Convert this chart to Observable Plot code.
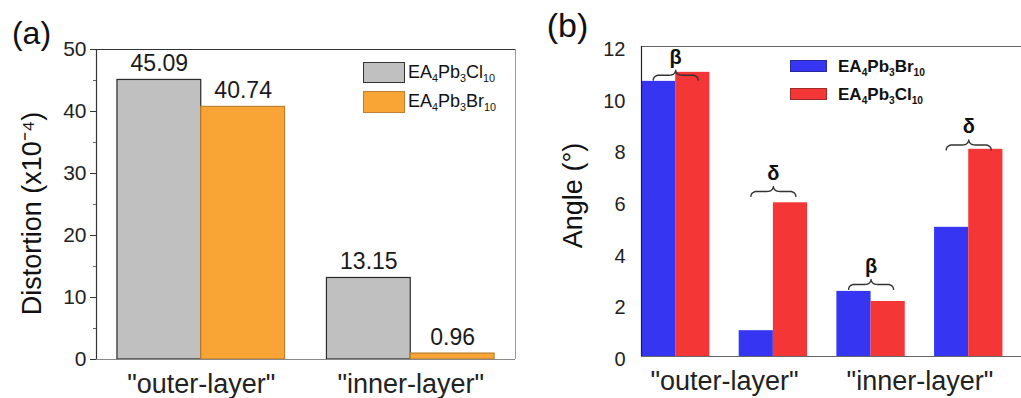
<!DOCTYPE html>
<html><head><meta charset="utf-8">
<script src="https://cdn.jsdelivr.net/npm/d3@7"></script>
<script src="https://cdn.jsdelivr.net/npm/@observablehq/plot@0.6"></script>
<style>
body{margin:0;background:#fff;font-family:"Liberation Sans",Arial,sans-serif;}
#wrap{position:relative;width:1021px;height:398px;display:flex;overflow:hidden;}
#wrap svg{display:block;flex:none;}
.lg{position:absolute;white-space:nowrap;color:#111;line-height:18px;}
.sw{position:absolute;box-sizing:border-box;}
sub{font-size:60%;vertical-align:-0.35em;line-height:0;}
</style></head><body><div id="wrap"></div>
<script>
// ---------- data: panel (a) ----------
const layers = ['"outer-layer"', '"inner-layer"'];
const seriesA = ["EA4Pb3Cl10", "EA4Pb3Br10"];
const distCl = [45.09, 13.15];
const distBr = [40.74, 0.96];
const yTicksA = [0, 10, 20, 30, 40, 50];
const yMinorA = [5, 15, 25, 35, 45];
// ---------- data: panel (b) ----------
const seriesB = ["EA4Pb3Br10", "EA4Pb3Cl10"];
const angleKinds = ["β", "δ", "β", "δ"];
const angleLayer = ['"outer-layer"', '"outer-layer"', '"inner-layer"', '"inner-layer"'];
const angleBr = [10.65, 1.0, 2.52, 5.0];
const angleCl = [11.0, 5.95, 2.13, 8.02];
const braceBase = [10.7, 6.2, 2.6, 8.0]; // brace anchor levels (degrees)
const yTicksB = [0, 2, 4, 6, 8, 10, 12];

const FONT = '"Liberation Sans", Arial, sans-serif';
const wrap = document.getElementById("wrap");

// ---------- panel (a) ----------
const rowsA = [];
layers.forEach((l, i) => {
  rowsA.push({i, s: 0, v: distCl[i]});
  rowsA.push({i, s: 1, v: distBr[i]});
});
const bx1 = d => d.i + 0.1 + 0.4 * d.s;
const bx2 = d => d.i + 0.5 + 0.4 * d.s;
const plotA = Plot.plot({
  width: 520, height: 398,
  marginLeft: 96, marginRight: 5, marginTop: 49, marginBottom: 39,
  style: {fontFamily: FONT, fontSize: "21px", color: "#222", background: "transparent", overflow: "visible"},
  x: {domain: [0, layers.length], axis: null},
  y: {domain: [0, 50], axis: null},
  marks: [
    Plot.rectY(rowsA.filter(d => d.s === 0), {x1: bx1, x2: bx2, y1: 0, y2: "v", fill: "#c0c0c0", stroke: "#2a2a2a", strokeWidth: 1.2}),
    Plot.rectY(rowsA.filter(d => d.s === 1), {x1: bx1, x2: bx2, y1: 0, y2: "v", fill: "#f8a535", stroke: "#b98131", strokeWidth: 1.2}),
    Plot.text(rowsA, {x: d => (bx1(d) + bx2(d)) / 2, y: "v", text: d => d.v.toFixed(2), dy: -16, fontSize: 23, fill: "#1a1a1a"}),
    Plot.ruleY([50], {stroke: "#333", strokeWidth: 1.2}),
    Plot.ruleY([0], {stroke: "#888", strokeWidth: 1.2}),
    Plot.ruleX([layers.length], {stroke: "#999", strokeWidth: 1}),
    Plot.ruleX([0], {stroke: "#333", strokeWidth: 1.2}),
    Plot.axisY({ticks: yTicksA, tickSize: 6, tickPadding: 4, fontSize: 21, stroke: "#333", label: null}),
    Plot.axisY({ticks: yMinorA, tickSize: 3, tickFormat: () => "", stroke: "#666", label: null}),
    Plot.axisX({ticks: layers.map((l, i) => i + 0.5), tickFormat: t => layers[Math.floor(t)], tickSize: 0, tickPadding: 14, fontSize: 27, label: null}),
    Plot.text(["Distortion (x10⁻⁴)"], {text: d => d, frameAnchor: "left", textAnchor: "middle", lineAnchor: "middle", rotate: -90, dx: -64, dy: 9, fontSize: 27, fill: "#111"}),
    Plot.text(["(a)"], {text: d => d, frameAnchor: "top-left", textAnchor: "middle", lineAnchor: "middle", dx: -65, dy: -16, fontSize: 32, fill: "#111"})
  ]
});
wrap.appendChild(plotA);

// ---------- panel (b) ----------
const P = 0.35; // bar width in pair units
const rowsB = [];
angleKinds.forEach((k, i) => {
  rowsB.push({i, s: 0, v: angleBr[i]});
  rowsB.push({i, s: 1, v: angleCl[i]});
});
const cx1 = d => d.i + P * d.s;
const cx2 = d => d.i + P * (d.s + 1);
const rx = 0.06, ry = 0.19, halfW = 0.23;
function bracePoints(id, xc, base) {
  const n = 8, left = [];
  const x1 = xc - halfW;
  for (let k = 0; k <= n; k++) { const t = k / n * Math.PI / 2; left.push([x1 + rx * (1 - Math.cos(t)), base + ry * Math.sin(t)]); }
  for (let k = 0; k <= n; k++) { const t = k / n * Math.PI / 2; left.push([xc - rx + rx * Math.sin(t), base + 2 * ry - ry * Math.cos(t)]); }
  const right = left.slice(0, -1).reverse().map(([x, y]) => [2 * xc - x, y]);
  return left.concat(right).map(([x, y]) => ({id, x, y}));
}
const braceData = angleKinds.flatMap((k, i) => bracePoints(i, i + P, braceBase[i]));
const braceLabels = angleKinds.map((k, i) => ({k, x: i + P, y: braceBase[i] + 2 * ry}));
const layerTicks = layers.map(l => d3.mean(angleLayer.map((a, i) => a === l ? i + P : null).filter(v => v !== null)));

const plotB = Plot.plot({
  width: 501, height: 398,
  marginLeft: 121, marginRight: 0, marginTop: 46, marginBottom: 42,
  style: {fontFamily: FONT, fontSize: "20px", color: "#222", background: "transparent", overflow: "visible"},
  x: {domain: [0, 3.89], axis: null},
  y: {domain: [0, 12], axis: null},
  marks: [
    Plot.rectY(rowsB.filter(d => d.s === 0), {x1: cx1, x2: cx2, y1: 0, y2: "v", fill: "#3636f2"}),
    Plot.rectY(rowsB.filter(d => d.s === 1), {x1: cx1, x2: cx2, y1: 0, y2: "v", fill: "#f53636"}),
    Plot.ruleY([12], {stroke: "#666", strokeWidth: 1.2}),
    Plot.ruleY([0], {stroke: "#666", strokeWidth: 1.2}),
    Plot.ruleX([0], {stroke: "#222", strokeWidth: 1.2}),
    Plot.line(braceData, {x: "x", y: "y", z: "id", stroke: "#333", strokeWidth: 1.4}),
    Plot.text(braceLabels, {x: "x", y: "y", text: "k", dy: -13, fontSize: 20, fontWeight: "bold", fill: "#111"}),
    Plot.axisY({ticks: yTicksB, tickSize: 0, tickPadding: 16, fontSize: 20, dy: 3, label: null}),
    Plot.axisX({ticks: layerTicks, tickFormat: (t, i) => layers[i], tickSize: 0, tickPadding: 14, fontSize: 27, label: null}),
    Plot.text(["Angle (°)"], {text: d => d, frameAnchor: "left", textAnchor: "middle", lineAnchor: "middle", rotate: -90, dx: -68, dy: -6, fontSize: 27, fill: "#111"}),
    Plot.text(["(b)"], {text: d => d, frameAnchor: "top-left", textAnchor: "middle", lineAnchor: "middle", dx: -74, dy: -20, fontSize: 34, fill: "#111"})
  ]
});
wrap.appendChild(plotB);

// ---------- legends (HTML) ----------
function fmt(s) { return s.replace(/(\d+)/g, "<sub>$1</sub>"); }
function addSwatch(l, t, w, h, bg, bd) {
  const d = document.createElement("div"); d.className = "sw";
  Object.assign(d.style, {left: l + "px", top: t + "px", width: w + "px", height: h + "px", background: bg, border: "1.3px solid " + bd});
  wrap.appendChild(d);
}
function addText(l, t, s, size, weight) {
  const d = document.createElement("div"); d.className = "lg";
  Object.assign(d.style, {left: l + "px", top: t + "px", fontSize: size + "px", fontWeight: weight});
  d.innerHTML = fmt(s);
  wrap.appendChild(d);
}
// panel (a) legend
addSwatch(363, 62, 42, 21, "#c0c0c0", "#333");
addText(408, 63, seriesA[0], 18, "normal");
addSwatch(363, 91, 42, 22, "#f8a535", "#b98131");
addText(408, 92, seriesA[1], 18, "normal");
// panel (b) legend
addSwatch(790, 60, 37, 12, "#3636f2", "#2a2aa0");
addText(838, 58, seriesB[0], 17, "bold");
addSwatch(790, 88, 37, 12, "#f53636", "#a02a2a");
addText(838, 86, seriesB[1], 17, "bold");
</script></body></html>
